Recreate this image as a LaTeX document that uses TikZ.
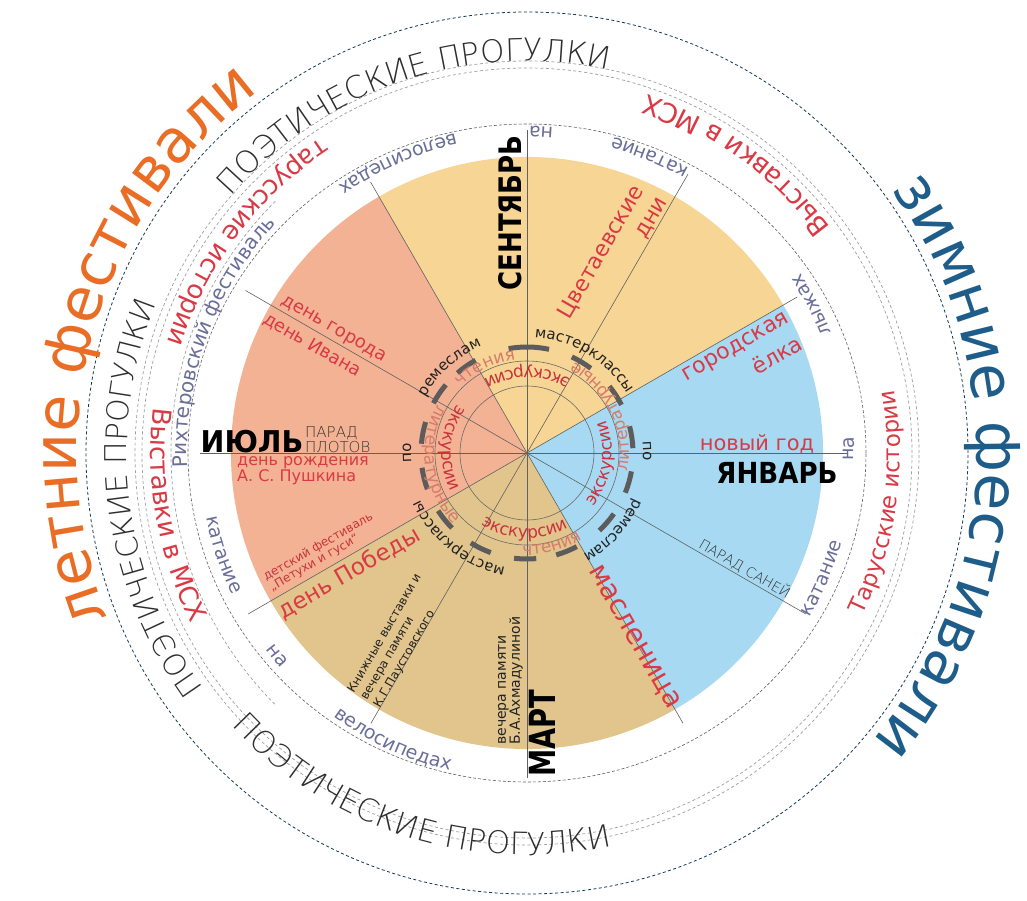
\documentclass[tikz,border=0pt]{standalone}
\usepackage{fontspec}
\usepackage{graphicx}
\setmainfont{DejaVu Sans}
\newfontfamily\thinf{DejaVuSans-ExtraLight.ttf}
\newfontfamily\spA[LetterSpace=18]{DejaVu Sans}
\newfontfamily\spB[LetterSpace=12]{DejaVu Sans}
\usetikzlibrary{decorations.text,calc}
\definecolor{autumn}{HTML}{F6D595}
\definecolor{summer}{HTML}{F3B293}
\definecolor{spring}{HTML}{E2C48D}
\definecolor{winter}{HTML}{A7D9F2}
\definecolor{evred}{HTML}{D93A45}
\definecolor{litred}{HTML}{D77B6C}
\definecolor{excred}{HTML}{C9333D}
\definecolor{slate}{HTML}{6A6E98}
\definecolor{orangef}{HTML}{EA6D25}
\definecolor{bluef}{HTML}{1E5D8A}
\definecolor{poet}{HTML}{2E2E2E}
\definecolor{ink}{HTML}{222222}
\newcommand\fs[1]{\fontsize{#1}{#1}\selectfont}
% mid angle, signed half span (+ = clockwise, top outward; - = counter-clockwise, top inward), radius, size, colour, text
\newcommand\arctext[6]{%
  \path[decorate,decoration={text along path,text align=center,text={|\fs{#4}\color{#5}|#6}}]
    ({#1+#2}:#3) arc[start angle={#1+#2}, end angle={#1-#2}, radius=#3];}
\newcommand\famarc[7]{% as \arctext, first argument: font family switch
  \path[decorate,decoration={text along path,text align=center,text={|#1\fs{#5}\color{#6}|#7}}]
    ({#2+#3}:#4) arc[start angle={#2+#3}, end angle={#2-#3}, radius=#4];}
\begin{document}
\begin{tikzpicture}[x=1pt,y=1pt,
  spoke/.style={draw=black!62,line width=0.6pt},
  thinring/.style={draw=black!58,line width=0.6pt},
  dashseg/.style={draw=black!64,line width=5pt},
  ringA/.style={draw=black!62,line width=0.6pt,dash pattern=on 3pt off 2pt},
  ringB/.style={draw=black!38,line width=0.7pt,dash pattern=on 3pt off 2.5pt},
  ringC/.style={draw=bluef!60!black,line width=0.8pt,dash pattern=on 3pt off 2.5pt},
  evt/.style={inner sep=0pt,text=evred},
  gtxt/.style={inner sep=0pt,text=ink},
  month/.style={inner sep=0pt,text=black,font=\fs{31}\bfseries},
]
\useasboundingbox (-527,-447) rectangle (500,453);
\fill[white] (-527,-447) rectangle (500,453);
% sectors
\fill[autumn] (0,0) -- (30:296) arc[start angle=30,end angle=120,radius=296] -- cycle;
\fill[summer] (0,0) -- (120:296) arc[start angle=120,end angle=210,radius=296] -- cycle;
\fill[spring] (0,0) -- (210:296) arc[start angle=210,end angle=300,radius=296] -- cycle;
\fill[winter] (0,0) -- (300:296) arc[start angle=300,end angle=390,radius=296] -- cycle;
% spokes
\foreach \a/\r in {0/320,30/312,60/322,90/323,120/313,150/325,180/327,210/322,240/312,270/325,300/312,330/322}
  \draw[spoke] (0,0) -- (\a:\r);
% inner rings
\draw[thinring] (0,0) circle[radius=92];
\draw[thinring] (0,0) circle[radius=67];
\foreach \a/\h in {8.6/6,33/6,59/6,89/11,125/6,146/6,169/6,194/6,219/6,244/6,269/6,292/6,319/6,344/6}
  \draw[dashseg] ({\a-\h}:106) arc[start angle={\a-\h},end angle={\a+\h},radius=106];
% outer rings
\draw[ringA] (0,0) ellipse[x radius=339,y radius=329];
\draw[ringB] (135:356) arc[start angle=135,end angle=225,radius=356];
\draw[ringB] (0,0) circle[radius=385];
\draw[ringB] (0,0) circle[radius=392];
\draw[ringC] (0,0) circle[radius=441];
% inner ring texts
\famarc{\spA}{116}{35}{94}{17}{litred}{чтения}
\famarc{\spA}{188}{-70}{102}{17}{litred}{литературные}
\famarc{\spA}{26}{-70}{102}{17}{litred}{литературные}
\famarc{\spA}{285}{-35}{102}{17}{litred}{чтения}
\foreach \m in {90,176,268,352}{\famarc{\spB}{\m}{-60}{85}{17}{excred}{экскурсии}}
% labels round the dashed ring
\arctext{58.5}{35}{116}{15}{ink}{мастерклассы}
\arctext{1}{20}{116}{15}{ink}{по}
\arctext{-42}{35}{116}{15}{ink}{ремеслам}
\arctext{231.5}{35}{116}{15}{ink}{мастерклассы}
\arctext{180}{20}{116}{15}{ink}{по}
\arctext{132}{35}{116}{15}{ink}{ремеслам}
% white band labels
\arctext{114}{-25}{327}{19}{slate}{велосипедах}
\arctext{87.5}{-10}{327}{19}{slate}{на}
\arctext{67.5}{-20}{327}{19}{slate}{катание}
\arctext{27.5}{-20}{327}{19}{slate}{лыжах}
\arctext{0.8}{-10}{327}{19}{slate}{на}
\arctext{-23}{-20}{327}{19}{slate}{катание}
\arctext{198.5}{-20}{327}{19}{slate}{катание}
\arctext{219}{-10}{327}{19}{slate}{на}
\arctext{245}{-25}{327}{19}{slate}{велосипедах}
\arctext{160}{45}{340}{20}{slate}{Рихтеровский фестиваль}
% red outer texts
\arctext{143}{-40}{376}{26}{evred}{тарусские истории}
\arctext{54}{-40}{378}{27}{evred}{Выставки в МСХ}
\arctext{190}{-40}{376}{26}{evred}{Выставки в МСХ}
\arctext{-8}{-40}{373}{23}{evred}{Тарусские истории}
% poetic walks
\famarc{\thinf}{108.5}{50}{392}{31}{poet}{ПОЭТИЧЕСКИЕ ПРОГУЛКИ}
\famarc{\thinf}{187}{50}{400}{30}{poet}{ПОЭТИЧЕСКИЕ ПРОГУЛКИ}
\famarc{\thinf}{252.5}{-50}{402}{31}{poet}{ПОЭТИЧЕСКИЕ ПРОГУЛКИ}
% festivals
\arctext{164}{60}{450}{60}{orangef}{летние фестивали}
\arctext{-2}{60}{450}{60}{bluef}{зимние фестивали}
% month names
\node[month,rotate=90] (sept) at (-17,240) {\scalebox{0.84}[1]{СЕНТЯБРЬ}};
\node[month,font=\fs{29}\bfseries] (jan) at (250,-19.5) {\scalebox{0.9}[1]{ЯНВАРЬ}};
\node[month,font=\fs{30}\bfseries] (jul) at (-275,11.5) {\scalebox{0.95}[1]{ИЮЛЬ}};
\node[month,font=\fs{36}\bfseries,rotate=90] (mart) at (15,-280) {\scalebox{0.76}[1]{МАРТ}};
% events
\node[evt,font=\fs{21}] (ny) at (230,9.5) {новый год};
\node[gtxt,text=black!80,font=\thinf\fs{15},anchor=west,align=left] (parad) at (-222,13) {ПАРАД\\ПЛОТОВ};
\node[evt,font=\fs{16},anchor=north west,align=left] (push) at (-290,-3) {день рождения\\А. С. Пушкина};
\node[evt,font=\fs{18},rotate=-30] (dgor) at ($(150:229)+(60:10)$) {день города};
\node[evt,font=\fs{18},rotate=-30] (divan) at ($(150:240)+(60:-14)$) {день Ивана};
\node[evt,font=\fs{22},rotate=60,anchor=east] (cvet) at ($(60:286)+(150:36)$) {Цветаевские};
\node[evt,font=\fs{22},rotate=60,anchor=east] (dni) at ($(60:288)+(150:8.5)$) {дни};
\node[evt,font=\fs{22},rotate=30,anchor=east] (gor) at ($(30:294)+(120:-14)$) {городская};
\node[evt,font=\fs{22},rotate=30,anchor=east] (elka) at ($(30:293)+(120:-40)$) {ёлка};
\node[evt,font=\fs{28},rotate=-60] (masl) at (300:213) {масленица};
\node[evt,font=\fs{23},rotate=30,anchor=west] (pobeda) at ($(210:294)+(120:-15)$) {день Победы};
\node[evt,text=excred,font=\fs{12},rotate=30,anchor=south west,align=left] (det) at ($(210:290)+(120:5)$) {детский фестиваль\\„Петухи и гуси“};
\node[gtxt,font=\fontsize{12}{15}\selectfont,rotate=60,anchor=south west,align=left] (kn) at ($(240:295)+(150:-3)$) {Книжные выставки и\\вечера памяти\\К.Г.Паустовского};
\node[gtxt,font=\fs{14},rotate=90,anchor=south west,align=left] (vech) at (-4,-292) {вечера памяти\\Б.А.Ахмадулиной};
\node[gtxt,text=black!80,font=\thinf\fs{14},rotate=-30] (psan) at ($(330:246.5)+(60:9)$) {ПАРАД САНЕЙ};
\end{tikzpicture}
\end{document}
